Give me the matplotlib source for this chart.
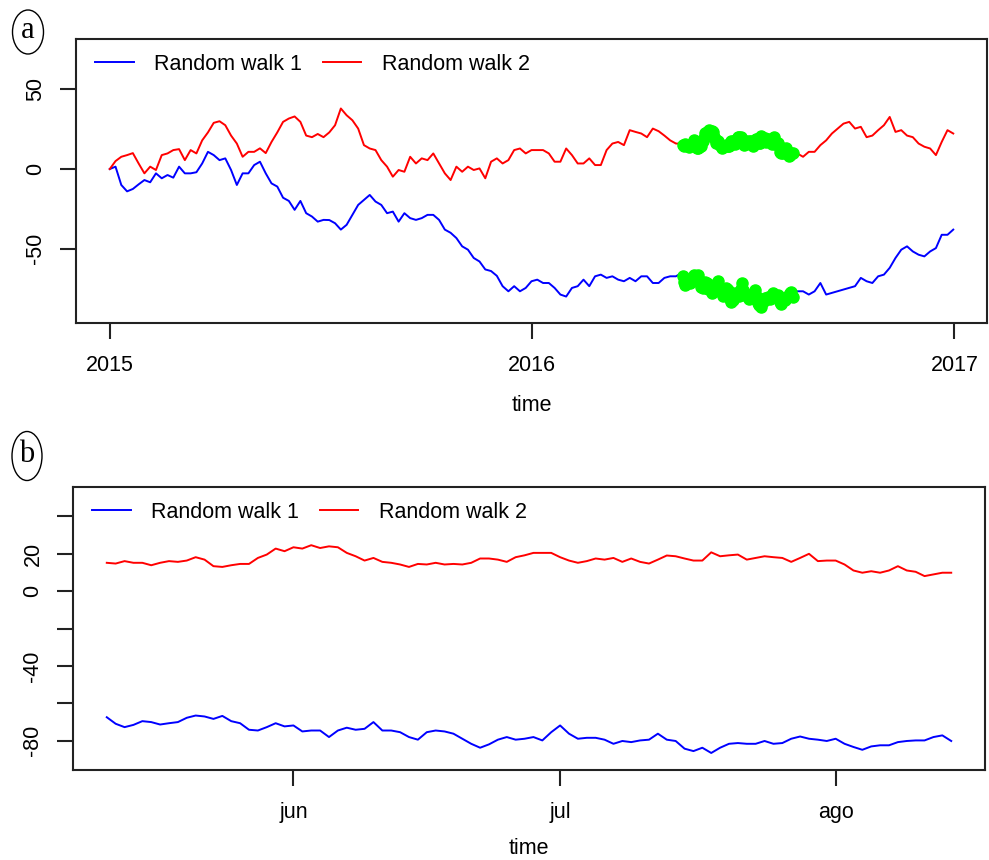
import numpy as np
import pandas as pd
import matplotlib
matplotlib.use("Agg")
import matplotlib.pyplot as plt
import matplotlib.dates as mdates
from matplotlib.patches import Ellipse

# ---------------- data ----------------
# Panel a: values every 5 days from 2015-01-01
rw1_a = [0, 1.5, -10, -14, -12.5, -9.6, -6.9, -8.3, -2.7, -5.8, -3.75, -5.4, 1.5, -2.7, -2.7, -2,
         3.5, 10.8, 8.75, 5.6, 6.7, -0.6, -10, -2.7, -2.7, 2.5, 4.6, -2.7, -9, -11, -18, -20,
         -25.6, -20, -27.7, -29.8, -33,
         -31.9, -32, -34, -38, -35, -28.75, -22.5, -19.4, -16.25, -20.4, -22.5, -27.7, -26.7,
         -33, -27.7, -30.8, -31.9, -30.8, -28.75, -28.75, -31.9, -38, -40, -43.3, -48.5, -50.6,
         -55.8, -58, -63, -64, -67, -73.5, -76.7, -73.5, -76.7, -74.6, -70.4,
         -69.4, -71.5, -71.5, -74.6, -78.75, -80, -74.6, -73.5, -69.4, -73.5, -67.3, -66.25,
         -68.3, -67.3, -69.4, -70.4, -68.3, -70.4, -67.3, -67.3, -71.5, -71.5, -68.3, -67.3,
         -67.3, -65.2, -69.4, -67.3, -69.4, -73.5, -74.6, -72.5, -75.6, -77.7, -78.75, -75.6,
         -78.75,
         -78.75, -81.9, -80.8, -78.75, -81.9, -80.8, -78.75, -76.7, -76.7, -76.7, -78.75,
         -76.7, -71.5, -78.75, -77.7, -76.7, -75.6, -74.6, -73.5, -68.3, -70.4, -71.5, -67.3,
         -66.25, -62, -55.8, -50.6, -48.5, -51.7, -53.75, -54.8, -51.7, -49.6, -41.25, -41.25,
         -38]
rw2_a = [0, 5, 7.7, 8.75, 10, 3.5, -2.7, 1.5, -0.6, 8.75, 9.8, 11.9, 12.5, 5.6, 11.9, 9.8,
         18, 23, 29, 30, 27.5, 21, 16, 7.7, 10.8, 10.8, 13, 10, 17, 23, 29.6, 31.7, 33, 29.6,
         21, 20, 22,
         20, 23, 27.5, 38, 33.75, 30.6, 25.4, 15, 12.9, 11.9, 5.6, 1.5, -4.8, -0.6, -1.7, 7.7,
         3.5, 6.7, 5.6, 9.8, 3.5, -2.7, -6.9, 1.5, -1.7, 1.5, -0.6, 0.4, -5.8, 4.6, 6.7, 3.5,
         5.6, 11.9, 12.9, 9.8, 11.9,
         11.9, 11.9, 9.8, 4.6, 4.6, 12.9, 8.75, 3.5, 3.5, 6.7, 2.5, 2.5, 11.9, 16, 17, 15,
         24.4, 23.3, 22.3, 20, 25.4, 23.75, 21, 18, 16, 16, 16, 17, 16, 22, 23, 16, 15, 16,
         18, 20, 17,
         17, 18, 18, 17, 18, 11.9, 12.9, 8.75, 9.8, 7.7, 10.8, 10.8, 15, 18, 22.3, 25.4, 28.5,
         29.6, 25.4, 26.5, 20, 21, 24.4, 27.5, 32.7, 23.3, 24.4, 21, 20, 16, 14, 12.9, 8.75,
         17, 24.4, 22.3]

# Panel b: daily values from 2016-05-11 to 2016-08-14
rw1_b = [-67.4, -70.9, -72.7, -71.5, -69.5, -70, -71.3, -70.6, -70, -67.7, -66.5, -67, -68.3,
         -66.7, -69.5, -70.6, -74.1, -74.5, -72.7, -70.6, -72.3, -71.8, -75, -74.5, -74.5,
         -78, -74.5, -73, -74.1, -73.6, -70, -74.5, -74.5, -75.4, -78, -79.4, -75.4, -74.5,
         -75, -76.2, -78.9, -81.6, -83.7, -81.9, -79.4, -78, -79.4, -78.9, -78,
         -79.8, -75.4, -71.8, -76.2, -78.9, -78.4, -78.4, -79.4, -81.6, -80.1, -80.7, -79.8,
         -79.4, -76.2, -79.4, -80.1, -84.2, -85.5, -83.7, -86.5, -83.7, -81.6, -81.2, -81.6,
         -81.6, -80.1, -81.6, -81.2, -78.9, -77.7, -78.9, -79.4, -80.1, -78.9, -81.6, -83.3,
         -84.8, -83, -82.4, -82.4, -80.7, -80.1, -79.8, -79.8, -78, -77.1, -80.1]
rw2_b = [15.1, 14.7, 16, 15.1, 15.1, 13.8, 15.1, 16, 15.6, 16.3, 18.1, 16.8, 13.3, 12.9, 13.8,
         14.5, 14.5, 17.7, 19.5, 22.7, 21.3, 23.4, 22.7, 24.5, 23,
         23.9, 23.4, 20.4, 18.6, 16.3, 17.7, 15.6, 15.1, 14.2, 12.9, 14.5, 14.2, 15.1, 14.2,
         14.5, 14.2, 15.1, 17.4, 17.4, 16.8, 15.6, 18.1, 19.1, 20.4,
         20.4, 20.4, 18.1, 16.3, 15.1, 16, 17.4, 16.8, 17.7, 15.6, 17.4, 15.6, 14.7, 16.8, 19,
         18.6, 17.4, 16.3, 16.3, 20.7, 18.6, 19.1, 19.5, 16.8,
         17.7, 18.6, 18.1, 17.7, 15.6, 17.7, 19.9, 16, 16.3, 16.3, 14.2, 11, 9.8, 10.6, 9.8,
         11, 13.3, 11, 10.3, 8, 8.9, 9.8, 9.8]

series_labels = ["Random walk 1", "Random walk 2"]
a_ticks = ["2015-01-01", "2016-01-01", "2017-01-01"]
a_ticklabels = ["2015", "2016", "2017"]
b_ticks = ["2016-06-01", "2016-07-01", "2016-08-01"]
b_ticklabels = ["jun", "jul", "ago"]
a_yticks = [-50, 0, 50]
b_yticks = [-80, -60, -40, -20, 0, 20, 40]
b_yticklabels = ["-80", "", "-40", "", "0", "20", ""]

dates_a = pd.date_range("2015-01-01", periods=len(rw1_a), freq="5D")
dates_b = pd.date_range("2016-05-11", periods=len(rw1_b), freq="D")

# ---------------- style ----------------
plt.rcParams["font.family"] = ["Liberation Sans", "DejaVu Sans"]
FS = 15.5
W, H = 989, 860
fig = plt.figure(figsize=(W / 100, H / 100), dpi=100)

def fx(px):
    return px / W

def fy(py):
    return 1 - py / H

def style_axes(ax):
    for s in ax.spines.values():
        s.set_linewidth(1.5)
        s.set_color("#222222")
    ax.tick_params(axis="both", direction="out", length=11.8, width=1.5,
                   color="#222222", labelsize=FS)
    ax.tick_params(axis="x", pad=11)
    ax.tick_params(axis="y", pad=9.5)
    for lab in ax.get_yticklabels():
        lab.set_rotation(90)
        lab.set_va("center")

def add_xlim(ax, d0, d1):
    d0 = mdates.date2num(pd.Timestamp(d0))
    d1 = mdates.date2num(pd.Timestamp(d1))
    e = (d1 - d0) * 0.04
    ax.set_xlim(d0 - e, d1 + e)

def panel_label(txt, cx, cy, w, h):
    el = Ellipse((fx(cx), fy(cy)), w / W, h / H, transform=fig.transFigure,
                 fill=False, edgecolor="black", linewidth=1.0)
    fig.add_artist(el)
    fig.text(fx(cx), fy(cy) + 0.002, txt, ha="center", va="center",
             fontsize=22, family="Liberation Serif")

# ---------------- panel a ----------------
axa = fig.add_axes([fx(76), fy(323), fx(987) - fx(76), fy(39) - fy(323)])
la1, = axa.plot(dates_a, rw1_a, color="#0000FF", lw=1.4)
la2, = axa.plot(dates_a, rw2_a, color="#FF0000", lw=1.4)
axa.plot(dates_b, rw1_b, "o", color="#00FF00", ms=8, mec="#00FF00", zorder=3)
axa.plot(dates_b, rw2_b, "o", color="#00FF00", ms=8, mec="#00FF00", zorder=3)
add_xlim(axa, dates_a[0], dates_a[-1])
axa.set_ylim(-96.6, 81.6)
axa.set_xticks([mdates.date2num(pd.Timestamp(t)) for t in a_ticks])
axa.set_xticklabels(a_ticklabels)
axa.set_yticks(a_yticks)
axa.set_yticklabels([str(v) for v in a_yticks])
style_axes(axa)
axa.set_xlabel("time", fontsize=FS, labelpad=14)
axa.legend([la1, la2], series_labels, loc="center left",
           bbox_to_anchor=(fx(95), fy(64)), bbox_transform=fig.transFigure,
           ncol=2, frameon=False, fontsize=FS, handlelength=1.8,
           handletextpad=0.95, columnspacing=0.95, borderpad=0, borderaxespad=0)

# ---------------- panel b ----------------
axb = fig.add_axes([fx(73), fy(770), fx(985) - fx(73), fy(487) - fy(770)])
lb1, = axb.plot(dates_b, rw1_b, color="#0000FF", lw=1.4)
lb2, = axb.plot(dates_b, rw2_b, color="#FF0000", lw=1.4)
add_xlim(axb, dates_b[0], dates_b[-1])
axb.set_ylim(-95.6, 55.6)
axb.set_xticks([mdates.date2num(pd.Timestamp(t)) for t in b_ticks])
axb.set_xticklabels(b_ticklabels)
axb.set_yticks(b_yticks)
axb.set_yticklabels(b_yticklabels)
style_axes(axb)
axb.set_xlabel("time", fontsize=FS, labelpad=11)
axb.legend([lb1, lb2], series_labels, loc="center left",
           bbox_to_anchor=(fx(92), fy(512)), bbox_transform=fig.transFigure,
           ncol=2, frameon=False, fontsize=FS, handlelength=1.8,
           handletextpad=0.95, columnspacing=0.95, borderpad=0, borderaxespad=0)

panel_label("a", 28, 32, 31, 44)
panel_label("b", 27, 456, 30, 49)

fig.savefig("out.png", dpi=100)
